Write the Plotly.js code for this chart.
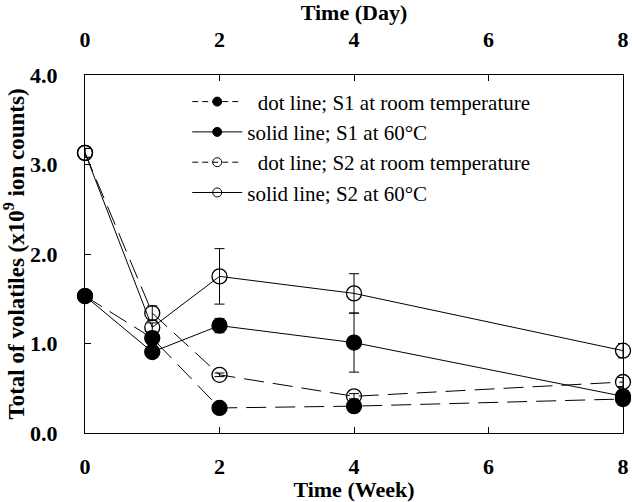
<!DOCTYPE html>
<html>
<head>
<meta charset="utf-8">
<script src="https://cdn.plot.ly/plotly-3.0.1.min.js"></script>
<style>html,body{margin:0;padding:0;background:#fff;}#chart{width:632px;height:502px;}</style>
</head>
<body>
<div id="chart"></div>
<script>
// Time in weeks
var weeks = [0, 1, 2, 4, 8];
// Top-axis tick labels (days)
var dayTicks = [0, 2, 4, 6, 8];

// Total of volatiles (x10^9 ion counts)
var s1Room = [1.53, 1.06, 0.28, 0.30, 0.38];
var s1RoomErr = [0.06, 0.05, 0.03, 0.03, 0.05];
var s1Hot = [1.53, 0.905, 1.20, 1.01, 0.41];
var s1HotErr = [0.06, 0.04, 0.08, 0.33, 0.10];
var s2Room = [3.13, 1.34, 0.65, 0.41, 0.57];
var s2RoomErr = [0.05, 0.08, 0.02, 0.03, 0.05];
var s2Hot = [3.13, 1.18, 1.75, 1.56, 0.92];
var s2HotErr = [0.05, 0.05, 0.31, 0.22, 0.08];

var names = [
  '\u00a0\u00a0dot line; S1 at room temperature',
  'solid line; S1 at 60\u00b0C',
  '\u00a0\u00a0dot line; S2 at room temperature',
  'solid line; S2 at 60\u00b0C'
];

var DASH = '20px,9px';
function series(y, err, dash, symbol) {
  return {
    x: weeks, y: y, type: 'scatter', mode: 'lines+markers',
    cliponaxis: false, showlegend: false,
    line: {color: '#000', width: 1, dash: dash},
    marker: {symbol: symbol, size: 15, color: '#000', line: {color: '#000', width: 1.3}},
    error_y: {type: 'data', array: err, visible: true, color: '#000', thickness: 1, width: 5}
  };
}
function legendItem(name, dash, symbol) {
  return {
    x: [null], y: [null], type: 'scatter', mode: 'lines+markers', name: name,
    line: {color: '#000', width: 1, dash: dash},
    marker: {symbol: symbol, size: 9, color: '#000', line: {color: '#000', width: 1}}
  };
}

var data = [
  series(s1Room, s1RoomErr, DASH, 'circle'),
  series(s1Hot, s1HotErr, 'solid', 'circle'),
  series(s2Room, s2RoomErr, DASH, 'circle-open'),
  series(s2Hot, s2HotErr, 'solid', 'circle-open'),
  legendItem(names[0], '6px,4px', 'circle'),
  legendItem(names[1], 'solid', 'circle'),
  legendItem(names[2], '6px,4px', 'circle-open'),
  legendItem(names[3], 'solid', 'circle-open'),
  {x: [null], y: [null], xaxis: 'x2', yaxis: 'y', type: 'scatter', mode: 'markers', showlegend: false, hoverinfo: 'skip'}
];

var tickFont = {family: 'Liberation Serif', size: 22, color: '#000', weight: 'bold'};
var titleFont = {family: 'Liberation Serif', size: 22, color: '#000', weight: 'bold'};

var layout = {
  width: 632, height: 502,
  margin: {l: 85, r: 9, t: 75, b: 69},
  paper_bgcolor: '#fff', plot_bgcolor: '#fff',
  font: {family: 'Liberation Serif', color: '#000'},
  xaxis: {
    range: [0, 8], tickvals: dayTicks, ticktext: dayTicks.map(String),
    ticks: 'inside', ticklen: 6, tickwidth: 1, tickcolor: '#000',
    showline: true, linecolor: '#000', linewidth: 1, mirror: false,
    showgrid: false, zeroline: false,
    tickfont: tickFont, ticklabelstandoff: 14,
    title: {text: 'Time (Week)', font: titleFont}
  },
  xaxis2: {
    range: [0, 8], tickvals: dayTicks, ticktext: dayTicks.map(String),
    overlaying: 'x', side: 'top', anchor: 'y',
    ticks: 'inside', ticklen: 6, tickwidth: 1, tickcolor: '#000',
    showline: true, linecolor: '#000', linewidth: 1,
    showgrid: false, zeroline: false,
    tickfont: tickFont, ticklabelstandoff: 18,
    title: {text: 'Time (Day)', font: titleFont}
  },
  yaxis: {
    range: [0, 4], tickvals: [0, 1, 2, 3, 4], tickformat: '.1f',
    ticks: 'inside', ticklen: 6, tickwidth: 1, tickcolor: '#000',
    showline: true, linecolor: '#000', linewidth: 1, mirror: true,
    showgrid: false, zeroline: false,
    tickfont: tickFont, ticklabelstandoff: 22,
    title: {text: '\u00a0\u00a0\u00a0\u00a0\u00a0\u00a0Total of volatiles (x10<sup>9</sup> ion counts)', font: {family: 'Liberation Serif', size: 23, color: '#000', weight: 'bold'}}
  },
  legend: {
    x: 0.19, y: 0.982, xanchor: 'left', yanchor: 'top',
    bgcolor: 'rgba(0,0,0,0)', borderwidth: 0,
    font: {family: 'Liberation Serif', size: 21, color: '#000'},
    itemwidth: 50, tracegroupgap: 0
  },
  showlegend: true
};

Plotly.newPlot('chart', data, layout, {staticPlot: true, displayModeBar: false});
</script>
</body>
</html>
